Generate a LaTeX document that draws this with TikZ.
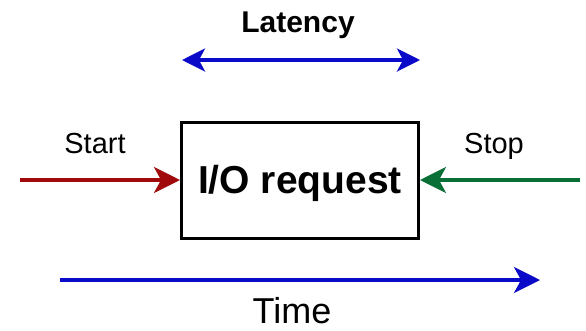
\documentclass[tikz,border=0pt]{standalone}
\usepackage{fontspec}
\setmainfont{Liberation Sans}
\usetikzlibrary{arrows.meta}
\definecolor{startred}{RGB}{160,10,10}
\definecolor{stopgreen}{RGB}{10,110,55}
\definecolor{timeblue}{RGB}{10,10,200}
\begin{document}
\begin{tikzpicture}[x=1pt,y=-1pt,
  tip/.style={-{Stealth[length=26pt,width=26pt,inset=7pt]}},
  bothtips/.style={{Stealth[length=23pt,width=23pt,inset=6pt]}-{Stealth[length=23pt,width=23pt,inset=6pt]}},
  flow/.style={line width=3.5pt},
  lbl/.style={anchor=base,inner sep=0pt,font=\fontsize{29}{32}\selectfont},
  boldlbl/.style={anchor=base,inner sep=0pt,font=\bfseries\fontsize{30}{33}\selectfont}]
  \fill[white] (0,0) rectangle (586,330);
  \useasboundingbox (0,0) rectangle (586,330);

  % the request box
  \node[draw,line width=3pt,minimum width=237pt,minimum height=116pt,inner sep=0pt,
        text height=27.5pt,text depth=0pt,font=\bfseries\fontsize{39}{42}\selectfont]
    (req) at (300,180) {I/O request};

  % start and stop arrows
  \coordinate (startpt) at (20,180);
  \coordinate (stoppt) at (580,180);
  \draw[flow,tip,startred] (startpt) -- (req.west);
  \draw[flow,tip,stopgreen] (stoppt) -- (req.east);
  \node[lbl] (start) at (95,153) {Start};
  \node[lbl] (stop) at (494,153) {Stop};

  % latency span
  \coordinate (latl) at (182,60);
  \coordinate (latr) at (420,60);
  \draw[flow,bothtips,timeblue] (latl) -- (latr);
  \node[boldlbl] (lat) at (298,32) {Latency};

  % time axis
  \coordinate (t0) at (60,280);
  \coordinate (t1) at (540,280);
  \draw[flow,tip,timeblue] (t0) -- (t1);
  \node[lbl,font=\fontsize{36}{40}\selectfont] (time) at (292,323) {Time};
\end{tikzpicture}
\end{document}
